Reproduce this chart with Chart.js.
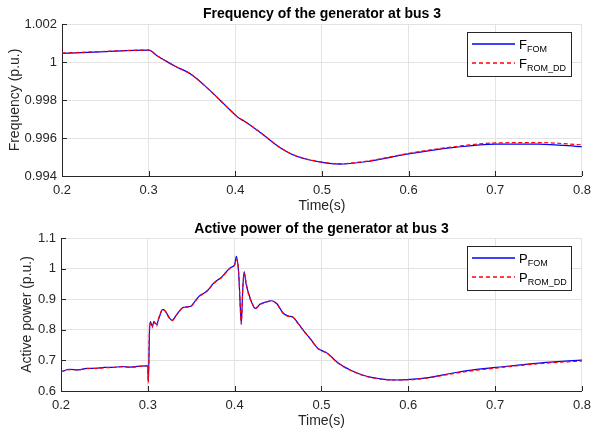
<!DOCTYPE html>
<html>
<head>
<meta charset="utf-8">
<script src="https://cdn.jsdelivr.net/npm/chart.js@4.4.0/dist/chart.umd.min.js"></script>
<style>
html, body { margin: 0; padding: 0; background: #fff; }
#wrap { position: relative; width: 598px; height: 430px; }
canvas { position: absolute; left: 0; }
</style>
</head>
<body>
<div id="wrap">
    <canvas id="freqChart" width="598" height="215" style="top:0"></canvas>
    <canvas id="powerChart" width="598" height="215" style="top:215px"></canvas>
</div>
<script>
// time axis
const timeTicks = [0.2, 0.3, 0.4, 0.5, 0.6, 0.7, 0.8];

// frequency of the generator at bus 3
const freqTime = [0.2, 0.25, 0.3, 0.31, 0.32, 0.33, 0.35, 0.37, 0.39, 0.4, 0.405, 0.41, 0.43, 0.45, 0.47, 0.5, 0.52, 0.55, 0.6, 0.65, 0.7, 0.75, 0.8];
const freqFom  = [1.00045, 1.00055, 1.00062, 1.00032, 1.00005, 0.99979, 0.99932, 0.99853, 0.99765, 0.99721, 0.99702, 0.99690, 0.99625, 0.99554, 0.99505, 0.99472, 0.99463, 0.99475, 0.99516, 0.99549, 0.99568, 0.99568, 0.99554];
const freqRom  = [1.00047, 1.00056, 1.00063, 1.00032, 1.00005, 0.99979, 0.99932, 0.99853, 0.99765, 0.99721, 0.99702, 0.99690, 0.99625, 0.99554, 0.99506, 0.99473, 0.99465, 0.99477, 0.99519, 0.99553, 0.99574, 0.99576, 0.99564];
const freqTicks = [0.994, 0.996, 0.998, 1, 1.002];

// active power of the generator at bus 3
const powerTime = [0.2, 0.21, 0.22, 0.23, 0.24, 0.25, 0.26, 0.27, 0.28, 0.29, 0.299, 0.3, 0.3005, 0.302, 0.303, 0.305, 0.307, 0.31, 0.313, 0.317, 0.32, 0.325, 0.328, 0.333, 0.34, 0.345, 0.35, 0.355, 0.36, 0.365, 0.37, 0.375, 0.38, 0.385, 0.39, 0.395, 0.4, 0.4019, 0.4046, 0.4065, 0.4076, 0.4095, 0.411, 0.413, 0.416, 0.42, 0.4236, 0.4294, 0.435, 0.4426, 0.4484, 0.456, 0.462, 0.467, 0.4731, 0.48, 0.486, 0.4956, 0.507, 0.5185, 0.5337, 0.5509, 0.57, 0.585, 0.6023, 0.6232, 0.65, 0.6728, 0.7013, 0.7375, 0.768, 0.8];
const powerFom  = [0.663, 0.671, 0.669, 0.674, 0.674, 0.677, 0.677, 0.680, 0.678, 0.681, 0.682, 0.680, 0.631, 0.800, 0.827, 0.812, 0.825, 0.818, 0.840, 0.866, 0.862, 0.838, 0.831, 0.849, 0.872, 0.875, 0.878, 0.896, 0.912, 0.920, 0.932, 0.950, 0.962, 0.972, 0.988, 1.003, 1.013, 1.040, 0.985, 0.876, 0.821, 0.941, 0.990, 0.952, 0.920, 0.887, 0.870, 0.884, 0.890, 0.895, 0.886, 0.854, 0.845, 0.842, 0.821, 0.795, 0.775, 0.740, 0.723, 0.693, 0.668, 0.649, 0.639, 0.636, 0.638, 0.644, 0.658, 0.668, 0.677, 0.688, 0.695, 0.701];
const powerRom  = [0.662, 0.670, 0.669, 0.673, 0.674, 0.676, 0.677, 0.679, 0.678, 0.680, 0.682, 0.679, 0.626, 0.812, 0.822, 0.806, 0.828, 0.812, 0.842, 0.866, 0.861, 0.837, 0.830, 0.848, 0.871, 0.874, 0.877, 0.895, 0.911, 0.919, 0.931, 0.949, 0.961, 0.971, 0.987, 1.002, 1.012, 1.030, 0.990, 0.870, 0.818, 0.946, 0.985, 0.958, 0.915, 0.889, 0.869, 0.883, 0.889, 0.894, 0.885, 0.853, 0.844, 0.841, 0.820, 0.794, 0.774, 0.739, 0.722, 0.692, 0.667, 0.648, 0.638, 0.636, 0.637, 0.643, 0.656, 0.666, 0.675, 0.686, 0.693, 0.698];
const powerTicks = [0.6, 0.7, 0.8, 0.9, 1, 1.1];

const axisColor = '#262626';
const gridColor = '#e3e3e3';
const fomColor = '#0000ff';
const romColor = '#ff0000';
const romDash = [4, 2.5];

Chart.defaults.font.family = "'Liberation Sans', Arial, Helvetica, sans-serif";
Chart.defaults.font.size = 13;
Chart.defaults.color = axisColor;

// inward ticks + boxed legend with subscripts, like matlab
const matlabLook = {
    id: 'matlabLook',
    afterDraw(chart) {
        const { ctx, chartArea: a, scales: { x, y } } = chart;
        ctx.save();
        ctx.strokeStyle = axisColor;
        ctx.lineWidth = 1;
        ctx.beginPath();
        x.ticks.forEach(t => {
            const px = Math.round(x.getPixelForValue(t.value)) + 0.5;
            ctx.moveTo(px, a.bottom);
            ctx.lineTo(px, a.bottom - 5);
        });
        y.ticks.forEach(t => {
            const py = Math.round(y.getPixelForValue(t.value)) + 0.5;
            ctx.moveTo(a.left, py);
            ctx.lineTo(a.left + 5, py);
        });
        ctx.stroke();

        // legend box
        const bw = 104, bh = 44;
        const bx = Math.round(a.right - 11 - bw), by = Math.round(a.top + 8);
        ctx.fillStyle = '#fff';
        ctx.fillRect(bx, by, bw, bh);
        ctx.strokeStyle = axisColor;
        ctx.strokeRect(bx + 0.5, by + 0.5, bw, bh);

        const styles = [
            { color: fomColor, dash: [] },
            { color: romColor, dash: [4, 3] }
        ];
        chart.data.datasets.forEach((ds, i) => {
            const ly = by + 12 + i * 19;
            ctx.beginPath();
            ctx.setLineDash(styles[i].dash);
            ctx.strokeStyle = styles[i].color;
            ctx.lineWidth = 1.5;
            ctx.moveTo(bx + 5, ly);
            ctx.lineTo(bx + 48, ly);
            ctx.stroke();
            ctx.setLineDash([]);

            const cut = ds.label.indexOf('_');
            const main = ds.label.slice(0, cut), sub = ds.label.slice(cut + 1);
            ctx.fillStyle = '#000';
            ctx.textBaseline = 'alphabetic';
            ctx.textAlign = 'left';
            ctx.font = "13px 'Liberation Sans', Arial, sans-serif";
            ctx.fillText(main, bx + 52, ly + 4.5);
            const w = ctx.measureText(main).width;
            ctx.font = "9px 'Liberation Sans', Arial, sans-serif";
            ctx.fillText(sub, bx + 52 + w, ly + 7.5);
        });
        ctx.restore();
    }
};

function makeChart(id, o) {
    const ctx = document.getElementById(id).getContext('2d');
    const toPts = vals => o.time.map((t, i) => ({ x: t, y: vals[i] }));
    return new Chart(ctx, {
        type: 'line',
        data: {
            datasets: [{
                label: o.labels[0],
                data: toPts(o.fom),
                borderColor: fomColor,
                borderWidth: 1.2,
                order: 1
            }, {
                label: o.labels[1],
                data: toPts(o.rom),
                borderColor: romColor,
                borderWidth: 1.2,
                borderDash: romDash,
                order: 0
            }]
        },
        options: {
            responsive: false,
            animation: false,
            parsing: false,
            elements: { point: { radius: 0 }, line: { cubicInterpolationMode: 'monotone' } },
            layout: { padding: { left: o.padLeft, right: o.padRight, top: 0, bottom: 0 } },
            plugins: {
                legend: { display: false },
                tooltip: { enabled: false },
                title: {
                    display: true,
                    fullSize: false,
                    text: o.title,
                    color: '#000',
                    font: { size: 14, weight: 'bold' },
                    padding: { top: 6, bottom: o.titleGap }
                }
            },
            scales: {
                x: {
                    type: 'linear',
                    min: 0.2, max: 0.8,
                    afterBuildTicks: s => { s.ticks = timeTicks.map(v => ({ value: v })); },
                    afterFit: s => { s.height = 39; },
                    ticks: { padding: 7, maxRotation: 0, callback: v => String(v) },
                    grid: { color: gridColor, drawTicks: false },
                    border: { color: axisColor, width: 1 },
                    title: { display: true, text: 'Time(s)', padding: 0, font: { size: 14 } }
                },
                y: {
                    type: 'linear',
                    min: o.yTicks[0], max: o.yTicks[o.yTicks.length - 1],
                    afterBuildTicks: s => { s.ticks = o.yTicks.map(v => ({ value: v })); },
                    afterFit: s => { s.width = o.yWidth; },
                    ticks: { padding: 5, callback: v => String(v) },
                    grid: { color: gridColor, drawTicks: false },
                    border: { color: axisColor, width: 1 },
                    title: { display: true, text: o.yLabel, padding: 0, font: { size: 14 } }
                }
            }
        },
        plugins: [matlabLook]
    });
}

makeChart('freqChart', {
    title: 'Frequency of the generator at bus 3',
    yLabel: 'Frequency (p.u.)',
    labels: ['F_FOM', 'F_ROM_DD'],
    time: freqTime, fom: freqFom, rom: freqRom, yTicks: freqTicks,
    padLeft: 7, yWidth: 55, padRight: 8, titleGap: 1.2
});

makeChart('powerChart', {
    title: 'Active power of the generator at bus 3',
    yLabel: 'Active power (p.u.)',
    labels: ['P_FOM', 'P_ROM_DD'],
    time: powerTime, fom: powerFom, rom: powerRom, yTicks: powerTicks,
    padLeft: 19, yWidth: 42, padRight: 10, titleGap: 0.2
});
</script>
</body>
</html>
